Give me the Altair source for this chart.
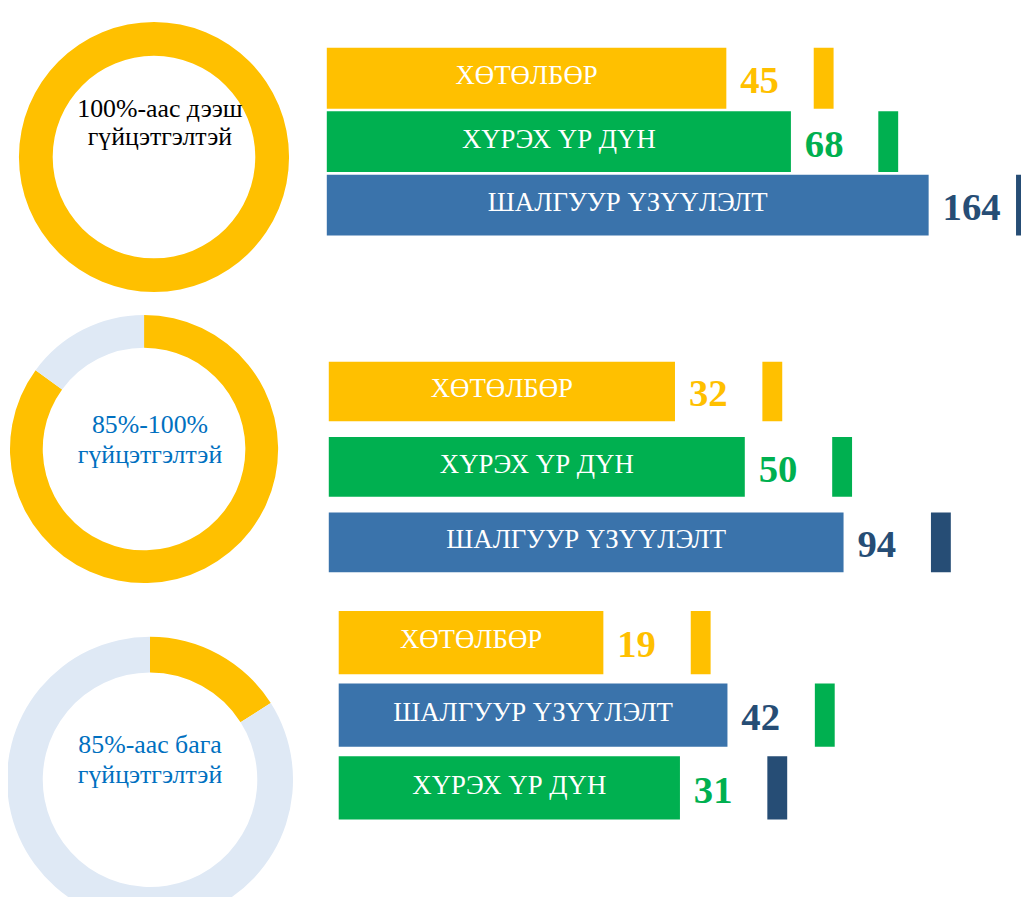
import altair as alt
import pandas as pd

# ---------------- data ----------------
cats_ab = ["ХӨТӨЛБӨР", "ХҮРЭХ ҮР ДҮН", "ШАЛГУУР ҮЗҮҮЛЭЛТ"]
cats_c = ["ХӨТӨЛБӨР", "ШАЛГУУР ҮЗҮҮЛЭЛТ", "ХҮРЭХ ҮР ДҮН"]
vals_1 = [45, 68, 164]
vals_2 = [32, 50, 94]
vals_3 = [19, 42, 31]

ring_text_1 = "100%-аас дээш\nгүйцэтгэлтэй"
ring_text_2 = "85%-100%\nгүйцэтгэлтэй"
ring_text_3 = "85%-аас бага\nгүйцэтгэлтэй"
ring_parts = ["done", "rest"]
ring_1 = [100]
ring_2 = [85, 15]
ring_3 = [16, 84]

# ---------------- style ----------------
YELLOW = "#FFC000"
GREEN = "#00B050"
BLUE = "#3A73AB"
NAVY = "#264D75"
PALE = "#DFE9F5"
TXTBLUE = "#0070C0"
FONT = "Liberation Serif"
LOGMIN = 3.5
XMAX = max(vals_1 + vals_2 + vals_3)


def ring(values, label, tcolor, w, h, cx, cy, r_out, r_in, tx, ty, lh):
    df = pd.DataFrame({"part": ring_parts[:len(values)], "v": values,
                       "k": list(range(len(values)))})
    arc = alt.Chart(df).mark_arc(radius=r_out, radius2=r_in, clip=True).encode(
        theta=alt.Theta("v:Q", stack=True),
        order=alt.Order("k:Q"),
        color=alt.Color("part:N", scale=alt.Scale(domain=ring_parts, range=[YELLOW, PALE]),
                        legend=None),
        x=alt.value(cx), y=alt.value(cy),
    )
    txt = alt.Chart(pd.DataFrame({"label": [label]})).mark_text(
        font=FONT, fontSize=26, color=tcolor, align="center", baseline="alphabetic",
        lineBreak="\n", lineHeight=lh,
    ).encode(text="label:N", x=alt.value(tx), y=alt.value(ty))
    return alt.layer(arc, txt).properties(width=w, height=h)


def bars(cats, vals, w, h, yr, pin):
    df = pd.DataFrame({"cat": cats, "v": vals, "pos": [0, 1, 2]})
    base = alt.Chart(df).transform_calculate(
        mid=f"sqrt(datum.v*{LOGMIN})", lo=f"{LOGMIN}")
    y = alt.Y("cat:N", sort=cats, axis=None,
              scale=alt.Scale(domain=cats, range=yr, paddingInner=pin, paddingOuter=0))
    xs = alt.Scale(type="log", domain=[LOGMIN, XMAX], range=[0, 606], nice=False)
    bar = base.mark_rect().encode(
        x=alt.X("lo:Q", scale=xs, axis=None), x2=alt.X2("v"), y=y,
        color=alt.Color("cat:N", scale=alt.Scale(domain=cats_ab, range=[YELLOW, GREEN, BLUE]),
                        legend=None),
    )
    tab = base.mark_rect(xOffset=88, x2Offset=108, clip=True).encode(
        x=alt.X("v:Q", scale=xs, axis=None), x2=alt.X2("v"), y=y,
        color=alt.Color("pos:O", scale=alt.Scale(domain=[0, 1, 2], range=[YELLOW, GREEN, NAVY]),
                        legend=None),
    )
    name = base.mark_text(font=FONT, fontSize=27, color="white", align="center",
                          baseline="middle", dy=-2).encode(
        x=alt.X("mid:Q", scale=xs, axis=None), y=y, text="cat:N")
    num = base.mark_text(font=FONT, fontSize=39, fontWeight="bold", align="left",
                         baseline="middle", dx=14, dy=3).encode(
        x=alt.X("v:Q", scale=xs, axis=None), y=y, text="v:Q",
        color=alt.Color("cat:N", scale=alt.Scale(domain=cats_ab, range=[YELLOW, GREEN, NAVY]),
                        legend=None),
    )
    return alt.layer(bar, tab, name, num).resolve_scale(color="independent").properties(
        width=w, height=h)


row1 = alt.hconcat(
    ring(ring_1, ring_text_1, "black", 321, 292, 147, 147, 136, 102, 153, 107, 28),
    bars(cats_ab, vals_1, 699, 292, [37, 226], 0.04),
    spacing=0,
)
row2 = alt.hconcat(
    ring(ring_2, ring_text_2, TXTBLUE, 323, 300, 137, 149, 135, 102, 143, 133, 30),
    bars(cats_ab, vals_2, 697, 300, [61, 273], 0.21),
    spacing=0,
)
row3 = alt.hconcat(
    ring(ring_3, ring_text_3, TXTBLUE, 333, 300, 143, 182, 144, 108, 143, 155, 30),
    bars(cats_c, vals_3, 687, 300, [12, 222], 0.13),
    spacing=0,
)

chart = alt.vconcat(row1, row2, row3, spacing=0).properties(padding=0).configure_view(
    stroke=None).configure_concat(spacing=0)

chart.save("out.html", embed_options={"renderer": "svg", "actions": False})
